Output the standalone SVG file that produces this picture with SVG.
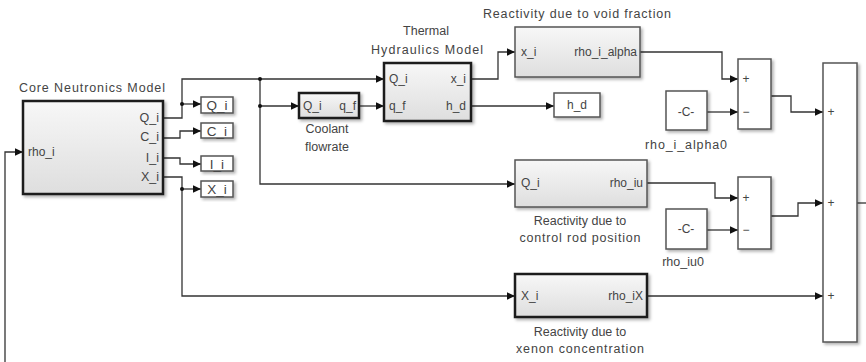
<svg xmlns="http://www.w3.org/2000/svg" width="866" height="362" viewBox="0 0 866 362">
<defs>
<linearGradient id="g" x1="0" y1="0" x2="0" y2="1">
<stop offset="0" stop-color="#f7f7f7"/>
<stop offset="1" stop-color="#dedede"/>
</linearGradient>
<filter id="sh" x="-10%" y="-10%" width="130%" height="140%">
<feDropShadow dx="2" dy="2" stdDeviation="1.5" flood-color="#000" flood-opacity="0.3"/>
</filter>
<marker id="ar" markerUnits="userSpaceOnUse" markerWidth="10" markerHeight="10" refX="9" refY="5" orient="auto">
<path d="M1,1.2 L9,5 L1,8.8 Z" fill="#111"/>
</marker>
</defs>
<style>
text{font-family:"Liberation Sans",Arial,sans-serif;font-size:12.5px;fill:#444}
.blk{fill:#fff;stroke:#555;stroke-width:1.5;filter:url(#sh)}
.sub{fill:url(#g);stroke:#555;stroke-width:1.5;filter:url(#sh)}
.thick{stroke:#1a1a1a;stroke-width:2.5}
.w{fill:none;stroke:#333;stroke-width:1.3}
.m{text-anchor:middle}
.e{text-anchor:end}
.s{font-size:12px}
.gt{font-size:13.5px}
</style>
<rect width="866" height="362" fill="#fff"/>
<g id="connectors" class="w">
<path d="M5,362 V152 H23" marker-end="url(#ar)"/>
<path d="M163,118 H182 V79 H384" marker-end="url(#ar)"/>
<path d="M182,104 H201" marker-end="url(#ar)"/>
<path d="M260,79 V184 H515" marker-end="url(#ar)"/>
<path d="M260,106 H299" marker-end="url(#ar)"/>
<path d="M163,138 H180 V131 H201" marker-end="url(#ar)"/>
<path d="M163,158 H180 V164 H201" marker-end="url(#ar)"/>
<path d="M163,177 H182 V296 H515" marker-end="url(#ar)"/>
<path d="M182,189 H201" marker-end="url(#ar)"/>
<path d="M359,106 H384" marker-end="url(#ar)"/>
<path d="M471,79 H498 V52 H515" marker-end="url(#ar)"/>
<path d="M471,106 H554" marker-end="url(#ar)"/>
<path d="M640,52 H722 V79 H738" marker-end="url(#ar)"/>
<path d="M707,112 H738" marker-end="url(#ar)"/>
<path d="M771,96 H791 V112 H823" marker-end="url(#ar)"/>
<path d="M647,183 H715 V198 H738" marker-end="url(#ar)"/>
<path d="M707,230 H738" marker-end="url(#ar)"/>
<path d="M771,216 H798 V203 H823" marker-end="url(#ar)"/>
<path d="M647,296 H823" marker-end="url(#ar)"/>
<path d="M857,203 H866"/>
<g fill="#111" stroke="none">
<circle cx="182" cy="104" r="2"/>
<circle cx="182" cy="189" r="2"/>
<circle cx="260" cy="79" r="2"/>
<circle cx="260" cy="106" r="2"/>
</g>
</g>
<g id="core">
<rect class="sub thick" x="23" y="101" width="140" height="93"/>
<text x="92" y="92" class="m" textLength="146">Core Neutronics Model</text>
<text x="28" y="156" class="s">rho_i</text>
<text x="159" y="122" class="e">Q_i</text>
<text x="159" y="141" class="e">C_i</text>
<text x="159" y="162" class="e">I_i</text>
<text x="159" y="181" class="e">X_i</text>
</g>
<g id="goto_Q">
<rect class="blk" x="201" y="97" width="32" height="16"/>
<text x="217" y="110" class="m gt">Q_i</text>
</g>
<g id="goto_C">
<rect class="blk" x="201" y="123" width="32" height="15"/>
<text x="217" y="135.5" class="m gt">C_i</text>
</g>
<g id="goto_I">
<rect class="blk" x="201" y="156" width="32" height="15"/>
<text x="217" y="168.5" class="m gt">I_i</text>
</g>
<g id="goto_X">
<rect class="blk" x="201" y="181" width="32" height="16"/>
<text x="217" y="194" class="m gt">X_i</text>
</g>
<g id="coolant">
<rect class="sub thick" x="299" y="93" width="60" height="25"/>
<text x="303" y="110" class="s">Q_i</text>
<text x="356" y="110" class="e s">q_f</text>
<text x="327" y="133" class="m">Coolant</text>
<text x="327" y="151" class="m">flowrate</text>
</g>
<g id="thermal">
<rect class="sub thick" x="384" y="63" width="87" height="58"/>
<text x="426" y="35" class="m">Thermal</text>
<text x="427" y="54" class="m" textLength="112">Hydraulics Model</text>
<text x="389" y="83" class="s">Q_i</text>
<text x="389" y="110" class="s">q_f</text>
<text x="466" y="83" class="e s">x_i</text>
<text x="466" y="110" class="e s">h_d</text>
</g>
<g id="void">
<rect class="sub" x="515" y="27" width="125" height="50"/>
<text x="577" y="18" class="m" textLength="188">Reactivity due to void fraction</text>
<text x="521" y="56" class="s">x_i</text>
<text x="637" y="56" class="e s">rho_i_alpha</text>
</g>
<g id="goto_hd">
<rect class="blk" x="554" y="93" width="46" height="24"/>
<text x="577" y="109" class="m s">h_d</text>
</g>
<g id="sum1">
<rect class="blk" x="738" y="59" width="33" height="70"/>
<text x="746" y="83" class="m s">+</text>
<text x="746" y="116" class="m s">−</text>
</g>
<g id="const1">
<rect class="blk" x="666" y="91" width="41" height="39"/>
<text x="686" y="116" class="m s">-C-</text>
<text x="686" y="149" class="m" textLength="82">rho_i_alpha0</text>
</g>
<g id="controlrod">
<rect class="sub" x="515" y="160" width="132" height="47"/>
<text x="521" y="187" class="s">Q_i</text>
<text x="643" y="187" class="e s">rho_iu</text>
<text x="580" y="225" class="m">Reactivity due to</text>
<text x="580" y="242" class="m" textLength="121">control rod position</text>
</g>
<g id="sum2">
<rect class="blk" x="738" y="177" width="33" height="72"/>
<text x="746" y="202" class="m s">+</text>
<text x="746" y="234" class="m s">−</text>
</g>
<g id="const2">
<rect class="blk" x="666" y="209" width="41" height="40"/>
<text x="686" y="233" class="m s">-C-</text>
<text x="683" y="266" class="m">rho_iu0</text>
</g>
<g id="xenon">
<rect class="sub thick" x="515" y="274" width="132" height="43"/>
<text x="521" y="300" class="s">X_i</text>
<text x="643" y="300" class="e s">rho_iX</text>
<text x="580" y="336" class="m">Reactivity due to</text>
<text x="580" y="353" class="m" textLength="128">xenon concentration</text>
</g>
<g id="sum3">
<rect class="blk" x="823" y="63" width="34" height="279"/>
<text x="831" y="116" class="m s">+</text>
<text x="831" y="207" class="m s">+</text>
<text x="831" y="300" class="m s">+</text>
</g>
</svg>
